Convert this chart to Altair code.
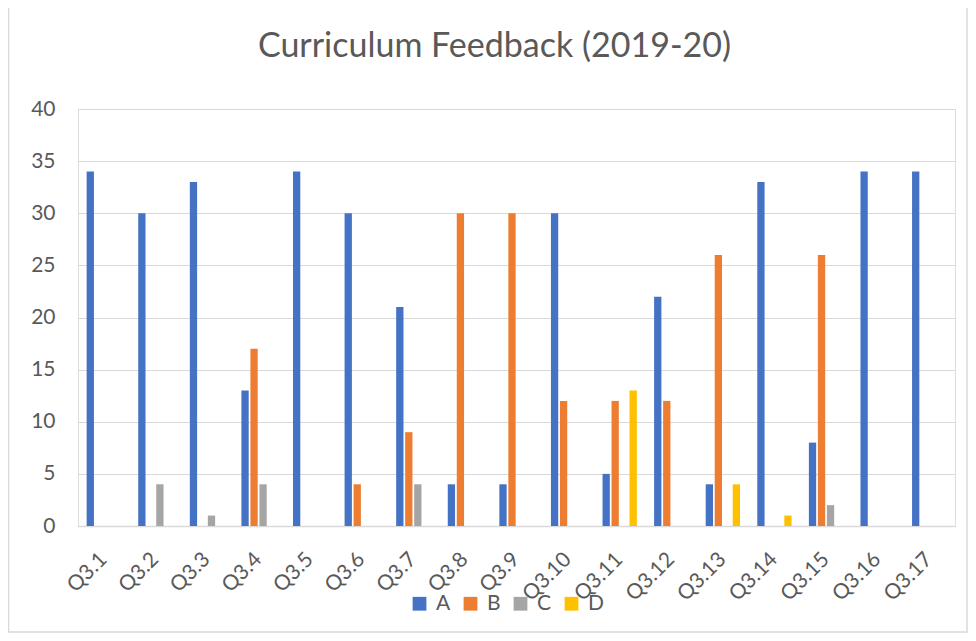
import altair as alt
import pandas as pd

categories = ["Q3.1", "Q3.2", "Q3.3", "Q3.4", "Q3.5", "Q3.6", "Q3.7", "Q3.8", "Q3.9",
              "Q3.10", "Q3.11", "Q3.12", "Q3.13", "Q3.14", "Q3.15", "Q3.16", "Q3.17"]
series = ["A", "B", "C", "D"]
a_vals = [34, 30, 33, 13, 34, 30, 21, 4, 4, 30, 5, 22, 4, 33, 8, 34, 34]
b_vals = [0, 0, 0, 17, 0, 4, 9, 30, 30, 12, 12, 12, 26, 0, 26, 0, 0]
c_vals = [0, 4, 1, 4, 0, 0, 4, 0, 0, 0, 0, 0, 0, 0, 2, 0, 0]
d_vals = [0, 0, 0, 0, 0, 0, 0, 0, 0, 0, 13, 0, 4, 1, 0, 0, 0]
colors = ["#4472C4", "#ED7D31", "#A5A5A5", "#FFC000"]
y_ticks = [0, 5, 10, 15, 20, 25, 30, 35, 40]
title_text = "Curriculum Feedback (2019-20)"

rows = []
for s, vals in zip(series, [a_vals, b_vals, c_vals, d_vals]):
    for c, v in zip(categories, vals):
        rows.append({"question": c, "series": s, "value": v})
df = pd.DataFrame(rows)

W, H = 877, 417
FONT = "Lato"
TXT = "#595959"
GRID = "#d9d9d9"

bars = alt.Chart(df).mark_bar().encode(
    x=alt.X("question:N", sort=categories,
            scale=alt.Scale(paddingInner=0.335, paddingOuter=0.1675),
            axis=alt.Axis(title=None, labelAngle=-45, labelAlign="right",
                          labelBaseline="middle", labelPadding=30, ticks=False,
                          domainColor=GRID, domainWidth=1.5, labelFontSize=21,
                          labelColor=TXT, labelFont=FONT)),
    xOffset=alt.XOffset("series:N", sort=series,
                        scale=alt.Scale(domain=series, paddingInner=0.19, paddingOuter=0)),
    y=alt.Y("value:Q", scale=alt.Scale(domain=[0, 40], nice=False),
            axis=alt.Axis(title=None, values=y_ticks, ticks=False, domain=False,
                          gridColor=GRID, gridWidth=1.2, labelPadding=23,
                          labelFontSize=21, labelColor=TXT, labelFont=FONT)),
    color=alt.Color("series:N", sort=series,
                    scale=alt.Scale(domain=series, range=colors),
                    legend=alt.Legend(title=None, orient="none", direction="horizontal",
                                      legendX=331, legendY=484, symbolType="square",
                                      symbolSize=190, symbolStrokeWidth=0,
                                      labelFontSize=21, labelColor=TXT, labelFont=FONT,
                                      labelOffset=6, columnPadding=9, padding=0)),
)

frame = alt.Chart(pd.DataFrame({"k": [0]})).mark_rect(
    fill="transparent", stroke=GRID, strokeWidth=1.5
).encode(
    x=alt.value(-69.5), x2=alt.value(W + 12), y=alt.value(-130), y2=alt.value(H + 106)
)

title = alt.Chart(pd.DataFrame({"t": [title_text]})).mark_text(
    font=FONT, fontSize=34, color=TXT, align="center", baseline="alphabetic"
).encode(
    text="t:N", x=alt.value(W / 2 - 22), y=alt.value(-52)
)

chart = alt.layer(frame, bars, title).properties(
    width=W, height=H,
    padding={"left": 70, "top": 101, "right": 13, "bottom": 107},
    autosize=alt.AutoSizeParams(type="none"),
).configure_view(stroke=None).configure(background="white")

chart.save("out.html", embed_options={"renderer": "svg", "actions": False})
